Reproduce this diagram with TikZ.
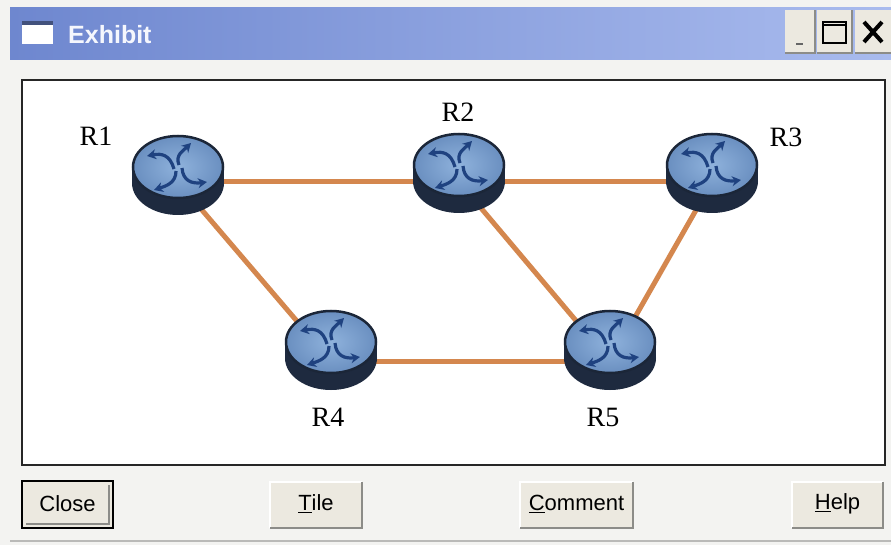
\documentclass[tikz,border=0pt]{standalone}
\usepackage{fontspec}
\setmainfont{Liberation Serif}
\newfontfamily\uisans{Liberation Sans}
\usetikzlibrary{arrows.meta}
\definecolor{winbg}{HTML}{F3F3F1}
\definecolor{titleL}{HTML}{6E87CF}
\definecolor{titleR}{HTML}{A9BBEE}
\definecolor{btnface}{HTML}{ECE9E0}
\definecolor{btnshadow}{HTML}{8C8C88}
\definecolor{linkc}{HTML}{D4874E}
\definecolor{facec}{HTML}{6A8FC0}
\definecolor{facelt}{HTML}{8FB2DC}
\definecolor{rimc}{HTML}{1B2638}
\definecolor{sidec}{HTML}{1E2A3F}
\definecolor{arrc}{HTML}{1F4280}
\tikzset{
  x=1pt,y=-1pt,
  link/.style={draw=linkc,line width=5pt},
  rlabel/.style={font=\fontsize{28}{30}\selectfont,inner sep=0pt},
  btn/.style={fill=btnface,draw=none},
  btntext/.style={font=\uisans\fontsize{22}{24}\selectfont,inner sep=0pt},
  rarr/.style={draw=arrc,line width=3.2pt,-{Stealth[length=9pt,width=10pt]}},
  router/.pic={
    \fill[sidec] (0,16) ellipse [x radius=46, y radius=32];
    \fill[sidec] (-46,0) rectangle (46,16);
    \shade[inner color=facelt,outer color=facec,draw=rimc,line width=2.5pt] (0,0) ellipse [x radius=45, y radius=31];
    \draw[rarr] (-4,2) .. controls (-8,-12) and (-16,-14) .. (-31,-11);
    \draw[rarr] (1,-2) .. controls (-3,-12) and (5,-16) .. (13,-24);
    \draw[rarr] (-2,4) .. controls (-2,16) and (-12,19) .. (-24,23);
    \draw[rarr] (4,1) .. controls (5,14) and (14,17) .. (29,15);
  }
}
\begin{document}
\begin{tikzpicture}
\useasboundingbox (0,0) rectangle (891,545);
% window background
\fill[winbg] (0,0) rectangle (891,545);
\draw[btnshadow!60,line width=2pt] (10,541) -- (891,541);
% title bar
\shade[left color=titleL,right color=titleR] (10,8) rectangle (891,60);
\fill[white] (22,21) rectangle (53,44);
\fill[titleL!60!black] (22,21) rectangle (53,25);
\node[anchor=west,inner sep=0pt,text=white!88!titleR,font=\uisans\bfseries\fontsize{25}{27}\selectfont] (title) at (68,35) {Exhibit};
% title buttons
\fill[btnface] (785,10) rectangle (815,53);
\fill[btnface] (817,10) rectangle (852,53);
\fill[btnface] (855,10) rectangle (891,53);
\draw[btnshadow,line width=1.5pt] (785,53) -- (815,53) -- (815,10);
\draw[btnshadow,line width=1.5pt] (817,53) -- (852,53) -- (852,10);
\draw[btnshadow,line width=1.5pt] (855,53) -- (891,53);
\draw[black!60,line width=2pt] (796,44) -- (803,44);
\draw[black,line width=2.5pt] (823,22) rectangle (846,43);
\draw[black,line width=1.5pt] (823,25) -- (846,25);
\draw[black,line width=4pt] (864,22) -- (882,42) (882,22) -- (864,42);
% canvas
\draw[fill=white,draw=black!85,line width=2pt] (22,80) rectangle (885,465);
% router anchor points
\coordinate (R1) at (178,182);
\coordinate (R2) at (459,182);
\coordinate (R3) at (712,182);
\coordinate (R4) at (331,361);
\coordinate (R5) at (610,361);
% links
\draw[link] (R1) -- (R2);
\draw[link] (R2) -- (R3);
\draw[link] (R1) -- (R4);
\draw[link] (R2) -- (R5);
\draw[link] (R3) -- (R5);
\draw[link] (R4) -- (R5);
% routers
\pic at (178,167) {router};
\pic at (459,165) {router};
\pic at (712,165) {router};
\pic at (331,342) {router};
\pic at (610,342) {router};
% labels
\node[rlabel] (l1) at (96,136) {R1};
\node[rlabel] (l2) at (458,112) {R2};
\node[rlabel] (l3) at (786,137) {R3};
\node[rlabel] (l4) at (328,417) {R4};
\node[rlabel] (l5) at (603,417) {R5};
% buttons
\fill[btn] (22,481) rectangle (113,528);
\draw[black,line width=2.5pt] (22,481) rectangle (113,528);
\draw[btnshadow,line width=1.5pt] (26,524) -- (109,524) -- (109,485);
\node[btntext] (bclose) at (67.5,504) {Close};
\fill[btn] (270,482) rectangle (362,528);
\draw[white,line width=1.5pt] (270,528) -- (270,482) -- (362,482);
\draw[btnshadow,line width=2.5pt] (270,528) -- (362,528) -- (362,482);
\node[btntext] (btile) at (316,504) {\underline{T}ile};
\fill[btn] (520,482) rectangle (633,528);
\draw[white,line width=1.5pt] (520,528) -- (520,482) -- (633,482);
\draw[btnshadow,line width=2.5pt] (520,528) -- (633,528) -- (633,482);
\node[btntext] (bcomment) at (576.5,504) {\underline{C}omment};
\fill[btn] (792,482) rectangle (883,528);
\draw[white,line width=1.5pt] (792,528) -- (792,482) -- (883,482);
\draw[btnshadow,line width=2.5pt] (792,528) -- (883,528) -- (883,482);
\node[btntext] (bhelp) at (837.5,504) {\underline{H}elp};
\end{tikzpicture}
\end{document}
